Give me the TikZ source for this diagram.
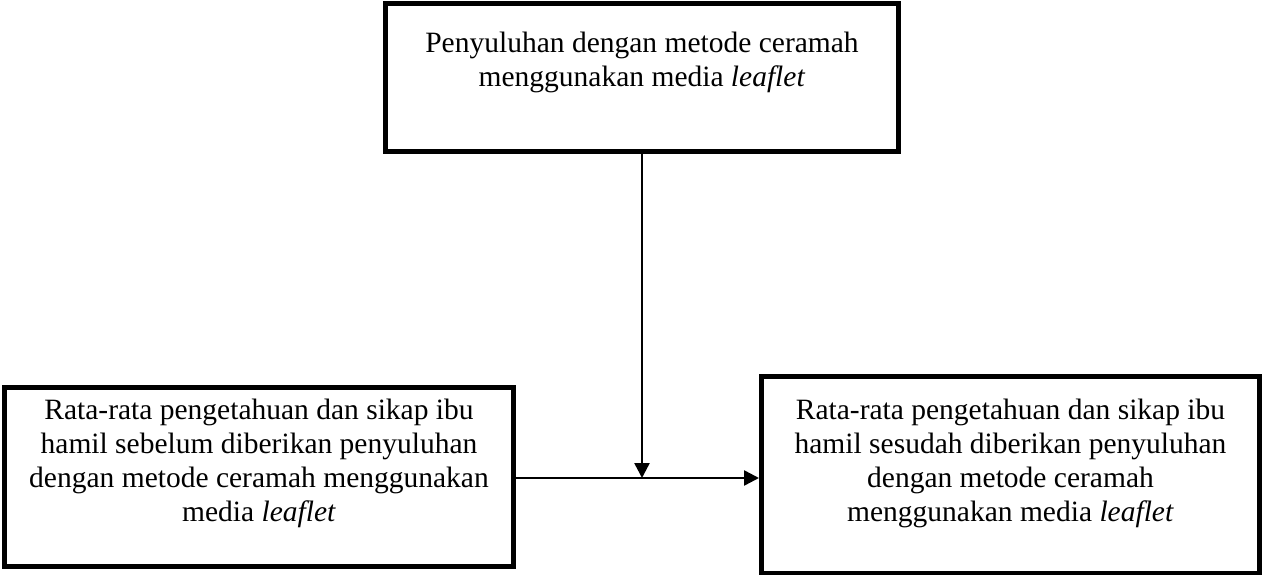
\documentclass[tikz,border=0pt]{standalone}
\usepackage{fontspec}
\setmainfont{Liberation Serif}
\usetikzlibrary{arrows.meta}
\begin{document}
\begin{tikzpicture}[x=1pt,y=-1pt,
  box/.style={draw=black,line width=5pt,minimum width=#1,inner sep=0pt},
  txt/.style={align=center,font=\fontsize{29.5}{34}\selectfont,inner sep=0pt},
  conn/.style={line width=2.5pt,-{Triangle[length=15pt,width=15pt]}}]
\useasboundingbox (0,0) rectangle (1262,575);
\node[box=513pt,minimum height=148pt] (top) at (642,78) {};
\node[txt] (toptxt) at (642,62) {Penyuluhan dengan metode ceramah\\menggunakan media \textit{leaflet}};
\node[box=509.5pt,minimum height=179pt] (left) at (259,476.5) {};
\node[txt] (lefttxt) at (259,463) {Rata-rata pengetahuan dan sikap ibu\\hamil sebelum diberikan penyuluhan\\dengan metode ceramah menggunakan\\media \textit{leaflet}};
\node[box=498pt,minimum height=197pt] (right) at (1010.5,474.5) {};
\node[txt] (righttxt) at (1010.5,463) {Rata-rata pengetahuan dan sikap ibu\\hamil sesudah diberikan penyuluhan\\dengan metode ceramah\\menggunakan media \textit{leaflet}};
\coordinate (mid) at (642,478);
\draw[conn] (top.south -| mid) -- (mid);
\draw[conn] (left.east |- mid) -- (right.west |- mid);
\end{tikzpicture}
\end{document}
